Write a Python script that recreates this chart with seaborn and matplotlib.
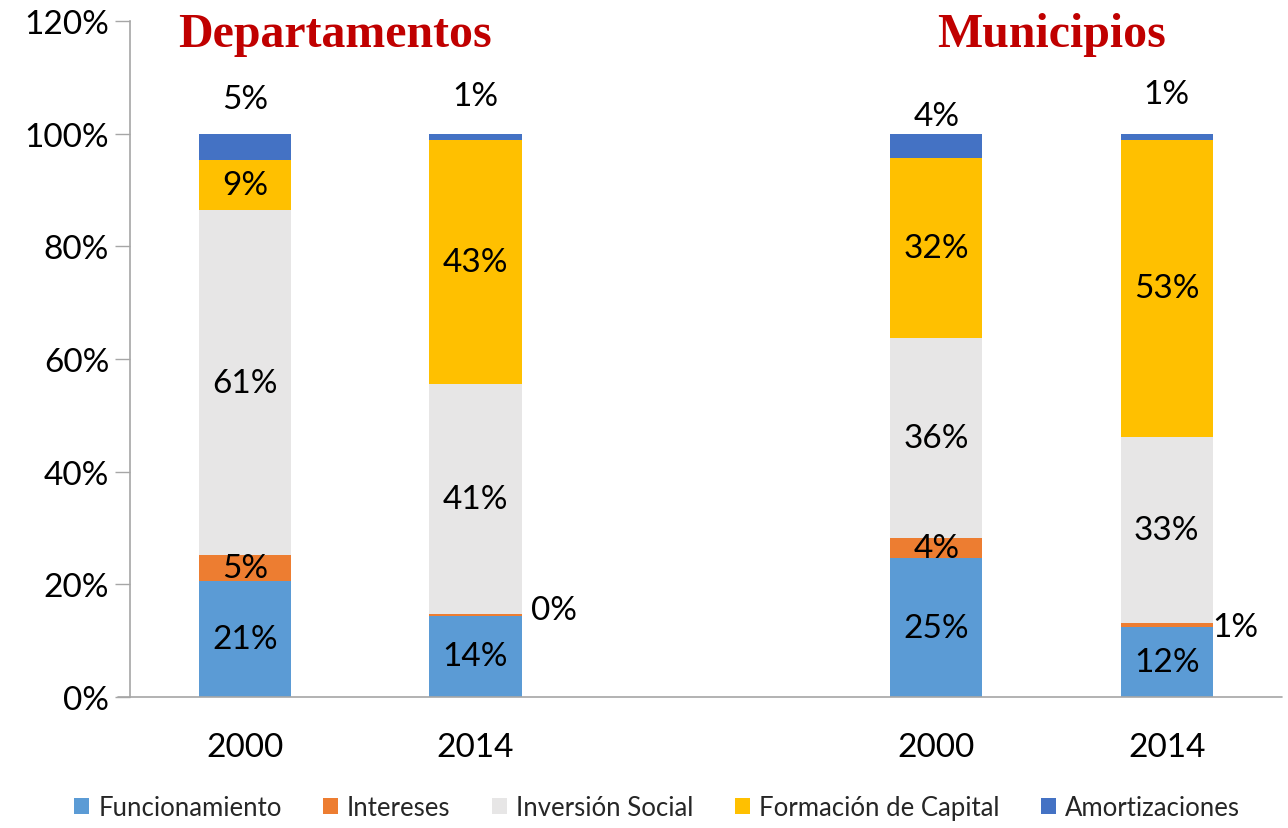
import matplotlib
matplotlib.use("Agg")
import matplotlib.pyplot as plt
from matplotlib.patches import Patch
from matplotlib.lines import Line2D
import seaborn as sns
import pandas as pd
import numpy as np

# ---- data ----
bar_keys = ["D2000", "D2014", "M2000", "M2014"]
slot_order = ["D2000", "D2014", "gap", "M2000", "M2014"]
tick_labels = ["2000", "2014", "", "2000", "2014"]
series = ["Funcionamiento", "Intereses", "Inversión Social", "Formación de Capital", "Amortizaciones"]
funcionamiento = [20.6, 14.4, 24.6, 12.4]
intereses = [4.6, 0.4, 3.6, 0.7]
inversion = [61.2, 40.8, 35.6, 33.1]
formacion = [9.0, 43.3, 31.9, 52.7]
amortizaciones = [4.6, 1.1, 4.3, 1.1]
group_titles = ["Departamentos", "Municipios"]

colors = ["#5B9BD5", "#ED7D31", "#E7E6E6", "#FFC000", "#4472C4"]

sns.set_theme(style="white")
plt.rcParams["font.family"] = ["Lato", "DejaVu Sans"]

values = [funcionamiento, intereses, inversion, formacion, amortizaciones]
cum = np.cumsum(np.array(values), axis=0)

fig = plt.figure(figsize=(12.88, 8.29), dpi=100)
ax = fig.add_axes([0.1009, 0.158, 0.8944, 0.8155])

# draw cumulative bars from top series down so lower ones cover upper
for i in range(len(series) - 1, -1, -1):
    df = pd.DataFrame({"key": bar_keys, "val": cum[i]})
    sns.barplot(data=df, x="key", y="val", order=slot_order, color=colors[i],
                saturation=1, width=0.4, ax=ax, linewidth=0, errorbar=None)

pos = {k: slot_order.index(k) for k in bar_keys}
lab_fs = 24
for j, k in enumerate(bar_keys):
    x = pos[k]
    for i in range(len(series)):
        v = values[i][j]
        lo = cum[i][j] - v
        txt = f"{v:.0f}%"
        if i == 4:
            off = [6.2, 6.6, 3.2, 7.0][j]
            ax.text(x, 100 + off, txt, ha="center", va="center", fontsize=lab_fs, color="black")
        elif i == 1 and v < 1.5:
            dx = 0.34 if j == 1 else 0.30
            ax.text(x + dx, lo + v / 2 + (0.8 if j == 1 else -0.4), txt, ha="center", va="center",
                    fontsize=lab_fs, color="black")
        else:
            ax.text(x, lo + v / 2, txt, ha="center", va="center", fontsize=lab_fs, color="black")

ax.set_xlim(-0.5, 4.5)
ax.set_ylim(0, 120)
ax.set_yticks(np.arange(0, 121, 20))
ax.set_yticklabels([f"{t}%" for t in range(0, 121, 20)], fontsize=24, color="black")
ax.set_xticks(range(len(slot_order)))
ax.set_xticklabels(tick_labels, fontsize=24, color="black")
ax.set_xlabel("")
ax.set_ylabel("")
ax.tick_params(axis="y", length=11, width=1, color="#A6A6A6", left=True, pad=4)
ax.tick_params(axis="x", length=0, pad=25)
for s in ["top", "right", "bottom"]:
    ax.spines[s].set_visible(False)
ax.spines["left"].set_color("#A6A6A6")
ax.spines["left"].set_linewidth(1.2)
# bottom axis line extends a bit left of the y axis, like the tick marks
ax.add_line(Line2D([-0.0104, 1.0], [0, 0], transform=ax.transAxes, color="#A6A6A6",
                   linewidth=1.2, clip_on=False))

# group titles
ax.text(0.39, 117.7, group_titles[0], ha="center", va="center", fontsize=34.5,
        fontweight="bold", color="#C00000", family="Liberation Serif")
ax.text(3.5, 117.7, group_titles[1], ha="center", va="center", fontsize=34.5,
        fontweight="bold", color="#C00000", family="Liberation Serif")

handles = [Patch(facecolor=c, edgecolor="none", label=s) for c, s in zip(colors, series)]
fig.legend(handles=handles, loc="center", bbox_to_anchor=(0.51, 0.025), ncol=5,
           frameon=False, fontsize=18.5, handlelength=0.6, handleheight=0.6,
           handletextpad=0.35, columnspacing=1.6)

fig.savefig("out.png", dpi=100)
